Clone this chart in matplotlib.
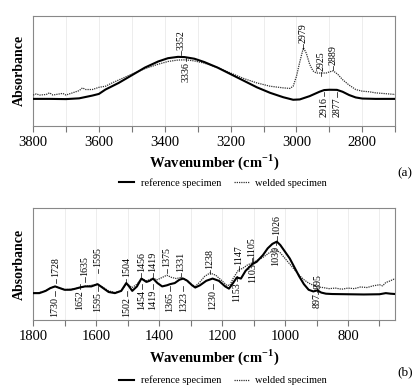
import matplotlib.pyplot as plt
import numpy as np
from matplotlib.ticker import MultipleLocator

plt.rcParams['font.family'] = ['Liberation Serif', 'DejaVu Serif']
plt.rcParams['mathtext.fontset'] = 'custom'
plt.rcParams['mathtext.rm'] = 'Liberation Serif'
plt.rcParams['mathtext.bf'] = 'Liberation Serif:bold'

# ---- panel (a): 3800-2700 cm-1 ----
wn_ref_a = [3800, 3750, 3700, 3660, 3620, 3600, 3580, 3540, 3500, 3460, 3420,
            3390, 3360, 3340, 3310, 3280, 3240, 3200, 3160, 3120, 3080, 3040,
            3010, 2990, 2960, 2930, 2916, 2900, 2877, 2860, 2840, 2820, 2800,
            2760, 2700]
abs_ref_a = [0.245, 0.245, 0.243, 0.25, 0.275, 0.29, 0.33, 0.39, 0.46, 0.53,
             0.585, 0.615, 0.627, 0.625, 0.61, 0.58, 0.53, 0.47, 0.41, 0.35,
             0.30, 0.26, 0.237, 0.24, 0.27, 0.31, 0.325, 0.328, 0.327, 0.31,
             0.28, 0.258, 0.248, 0.245, 0.245]

wn_weld_a = [3800, 3790, 3780, 3760, 3750, 3740, 3720, 3710, 3700, 3680, 3660,
             3650, 3640, 3620, 3600, 3580, 3560, 3530, 3500, 3460, 3420, 3390,
             3360, 3336, 3310, 3280, 3240, 3200, 3160, 3120, 3080, 3040, 3020,
             3010, 3000, 2990, 2979, 2970, 2960, 2950, 2940, 2925, 2910, 2900,
             2889, 2875, 2860, 2840, 2820, 2800, 2780, 2760, 2740, 2720, 2700]
abs_weld_a = [0.28, 0.29, 0.28, 0.285, 0.30, 0.28, 0.29, 0.295, 0.28, 0.30,
              0.32, 0.345, 0.33, 0.33, 0.35, 0.36, 0.39, 0.43, 0.47, 0.52,
              0.56, 0.585, 0.598, 0.60, 0.59, 0.57, 0.53, 0.48, 0.43, 0.39,
              0.36, 0.345, 0.34, 0.36, 0.45, 0.58, 0.71, 0.66, 0.56, 0.50,
              0.48, 0.48, 0.48, 0.49, 0.50, 0.47, 0.42, 0.37, 0.33, 0.315,
              0.31, 0.30, 0.295, 0.29, 0.285]

# peak labels: value, y of text end (axes fraction), above/below
labels_a = [(3352, 0.69, 'up'), (3336, 0.58, 'down'), (2979, 0.75, 'up'),
            (2925, 0.50, 'up'), (2889, 0.555, 'up'), (2916, 0.26, 'down'),
            (2877, 0.255, 'down')]

# ---- panel (b): 1800-650 cm-1 ----
wn_ref_b = [1800, 1780, 1760, 1745, 1730, 1715, 1700, 1680, 1665, 1652, 1635,
            1615, 1595, 1580, 1560, 1540, 1520, 1504, 1495, 1485, 1470, 1456,
            1440, 1430, 1419, 1405, 1390, 1375, 1365, 1350, 1335, 1323, 1310,
            1295, 1285, 1270, 1250, 1230, 1210, 1190, 1178, 1165, 1153, 1140,
            1125, 1103, 1090, 1070, 1055, 1040, 1026, 1015, 1000, 985, 970,
            955, 940, 925, 910, 897, 885, 870, 850, 800, 750, 700, 680, 665,
            650]
abs_ref_b = [0.24, 0.24, 0.26, 0.285, 0.30, 0.285, 0.27, 0.27, 0.28, 0.29,
             0.30, 0.30, 0.32, 0.29, 0.25, 0.24, 0.26, 0.33, 0.30, 0.26, 0.30,
             0.37, 0.34, 0.35, 0.37, 0.33, 0.30, 0.31, 0.32, 0.33, 0.36, 0.37,
             0.35, 0.31, 0.29, 0.31, 0.35, 0.37, 0.35, 0.30, 0.28, 0.33, 0.38,
             0.37, 0.44, 0.50, 0.52, 0.58, 0.64, 0.68, 0.70, 0.67, 0.61, 0.55,
             0.47, 0.39, 0.32, 0.27, 0.255, 0.265, 0.245, 0.235, 0.232, 0.23,
             0.228, 0.23, 0.24, 0.235, 0.232]

wn_weld_b = [1800, 1780, 1760, 1745, 1730, 1715, 1700, 1680, 1665, 1652, 1635,
             1615, 1595, 1580, 1560, 1540, 1520, 1504, 1495, 1485, 1470, 1456,
             1440, 1430, 1419, 1405, 1390, 1375, 1360, 1345, 1331, 1315, 1300,
             1285, 1270, 1255, 1238, 1220, 1200, 1185, 1175, 1165, 1147, 1135,
             1120, 1105, 1090, 1070, 1050, 1030, 1015, 1000, 985, 970, 955,
             940, 925, 910, 895, 880, 860, 840, 820, 800, 780, 760, 740, 720,
             700, 690, 680, 670, 650]
abs_weld_b = [0.24, 0.245, 0.26, 0.285, 0.30, 0.285, 0.27, 0.275, 0.28, 0.29,
              0.30, 0.31, 0.32, 0.295, 0.26, 0.245, 0.26, 0.32, 0.31, 0.29,
              0.32, 0.37, 0.35, 0.36, 0.37, 0.36, 0.38, 0.40, 0.38, 0.37, 0.38,
              0.36, 0.32, 0.30, 0.34, 0.39, 0.42, 0.40, 0.35, 0.31, 0.31, 0.37,
              0.45, 0.46, 0.49, 0.51, 0.53, 0.56, 0.60, 0.63, 0.60, 0.55, 0.50,
              0.45, 0.40, 0.36, 0.33, 0.31, 0.295, 0.29, 0.28, 0.285, 0.275,
              0.285, 0.28, 0.295, 0.29, 0.305, 0.315, 0.305, 0.335, 0.345, 0.37]

labels_b = [(1728, 0.38, 'up'), (1730, 0.205, 'down'), (1635, 0.39, 'up'),
            (1652, 0.27, 'down'), (1595, 0.47, 'up'), (1595, 0.25, 'down'),
            (1504, 0.38, 'up'), (1502, 0.205, 'down'), (1456, 0.43, 'up'),
            (1454, 0.27, 'down'), (1419, 0.43, 'up'), (1419, 0.27, 'down'),
            (1375, 0.47, 'up'), (1365, 0.25, 'down'), (1331, 0.43, 'up'),
            (1323, 0.25, 'down'), (1238, 0.46, 'up'), (1230, 0.27, 'down'),
            (1147, 0.49, 'up'), (1153, 0.34, 'down'), (1105, 0.56, 'up'),
            (1103, 0.51, 'down'), (1026, 0.76, 'up'), (1030, 0.66, 'down'),
            (895, 0.28, 'up'), (897, 0.24, 'down')]

fig = plt.figure(figsize=(4.13, 3.86), dpi=100)
ax_a = fig.add_axes([0.080, 0.674, 0.877, 0.285])
ax_b = fig.add_axes([0.080, 0.171, 0.877, 0.290])

panels = [
    (ax_a, wn_ref_a, abs_ref_a, wn_weld_a, abs_weld_a, labels_a, (3800, 2700), 0.552, 0.526, '(a)'),
    (ax_b, wn_ref_b, abs_ref_b, wn_weld_b, abs_weld_b, labels_b, (1800, 650), 0.036, 0.014, '(b)'),
]

for ax, wr, ar, ww, aw, labs, xl, tag_y, leg_y, tag in panels:
    ax.plot(ww, aw, color='#333333', lw=0.9, ls=(0, (1, 0.8)), label='welded specimen', zorder=3)
    ax.plot(wr, ar, color='black', lw=1.5, label='reference specimen', zorder=4)
    ax.set_xlim(*xl)
    ax.set_ylim(0, 1)
    ax.set_yticks([])
    ax.xaxis.set_major_locator(MultipleLocator(200))
    ax.xaxis.set_minor_locator(MultipleLocator(100))
    ax.tick_params(axis='x', which='both', direction='out', length=4,
                   color='#777777', width=0.8, labelsize=10.5, pad=3)
    ax.grid(axis='x', which='both', color='#e6e6e6', lw=0.5)
    ax.set_axisbelow(True)
    for s in ax.spines.values():
        s.set_color('#888888')
        s.set_linewidth(0.8)
    ax.set_ylabel('Absorbance', fontsize=10, fontweight='bold', labelpad=5)
    ax.set_xlabel('Wavenumber (cm$^{\\mathbf{-1}}$)', fontsize=10.5,
                  fontweight='bold', labelpad=3)

    for v, yt, side in labs:
        if side == 'up':
            ax.text(v, yt, str(v), rotation=90, ha='center', va='bottom',
                    fontsize=7.2, transform=ax.get_xaxis_transform(), zorder=5)
            ax.plot([v, v], [yt - 0.05, yt - 0.01], color='black', lw=0.5,
                    transform=ax.get_xaxis_transform(), zorder=5)
        else:
            ax.text(v, yt, str(v), rotation=90, ha='center', va='top',
                    fontsize=7.2, transform=ax.get_xaxis_transform(), zorder=5)
            ax.plot([v, v], [yt + 0.01, yt + 0.05], color='black', lw=0.5,
                    transform=ax.get_xaxis_transform(), zorder=5)

    handles, names = ax.get_legend_handles_labels()
    fig.legend(handles[::-1], names[::-1], loc='center', ncol=2, frameon=False,
               bbox_to_anchor=(0.54, leg_y), fontsize=7.5, handlelength=1.5,
               columnspacing=1.2, handletextpad=0.6, borderaxespad=0)
    fig.text(0.98, tag_y, tag, ha='center', va='center', fontsize=9.5)

fig.savefig('out.png', dpi=100)
